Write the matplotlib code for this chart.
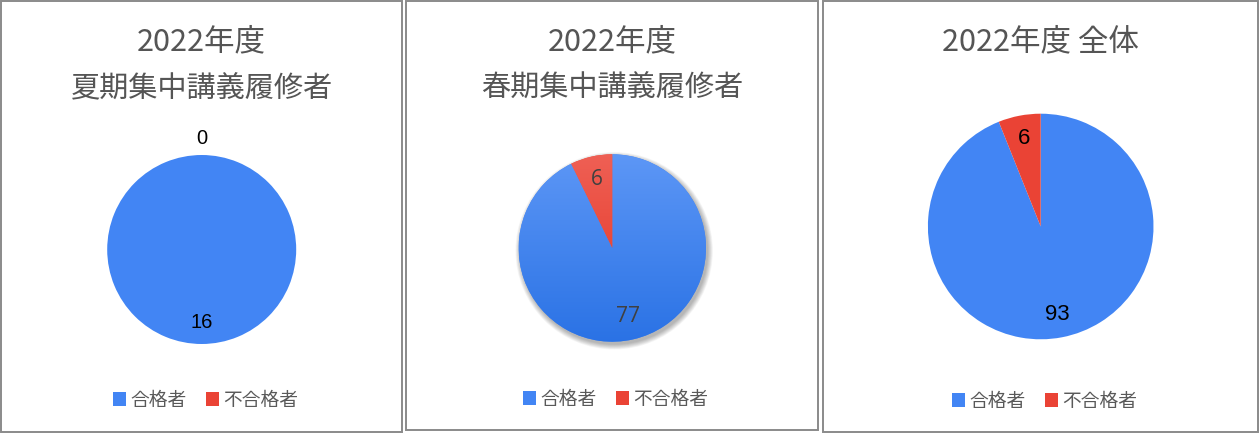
import numpy as np
import matplotlib
matplotlib.use("Agg")
import matplotlib.pyplot as plt
from matplotlib.patches import Rectangle, Circle
import matplotlib.colors as mcolors

plt.rcParams['font.family'] = ['Noto Sans CJK JP', 'DejaVu Sans']

# ---- data ----
categories = ["合格者", "不合格者"]
titles = ["2022年度\n夏期集中講義履修者", "2022年度\n春期集中講義履修者", "2022年度 全体"]
summer_values = [16, 0]
spring_values = [77, 6]
total_values = [93, 6]
panel_values = [summer_values, spring_values, total_values]
colors = ["#4285F4", "#EA4335"]

W, H = 1259, 433
fig = plt.figure(figsize=(W / 100, H / 100), dpi=100)
fig.patch.set_facecolor("white")

def fx(px):
    return px / W

def fy(py):
    return 1 - py / H

# panel frames (pixel coords, y from top)
frames = [(0.5, 0.5, 402, 432), (406, 0.5, 818, 430), (823, 0.5, 1258, 432)]
for x0, y0, x1, y1 in frames:
    fig.add_artist(Rectangle((fx(x0), fy(y1)), fx(x1 - x0), (y1 - y0) / H,
                             transform=fig.transFigure, fill=False,
                             edgecolor="#8a8a8a", linewidth=1.4))

# pie geometry: center x, center y, radius (pixels)
geoms = [(201.7, 249.5, 94.5), (612.3, 248.0, 93.7), (1040.7, 226.5, 112.8)]
title_pos = [(201.7, [42, 89]), (612.3, [42, 89]), (1040.7, [42])]
legend_pos = [(205.5, 400), (615.5, 399), (1044.5, 401)]
label_style = [
    dict(color="black", fontsize=14.5, family=["Liberation Sans"], dist=0.77, zero_dist=1.17),
    dict(color="#404040", fontsize=15, family=["Open Sans"], dist=0.75, zero_dist=1.17),
    dict(color="black", fontsize=16, family=["Liberation Sans"], dist=0.79, zero_dist=1.17),
]

for i, vals in enumerate(panel_values):
    cx, cy, r = geoms[i]
    ax = fig.add_axes([fx(cx - r), fy(cy + r), 2 * r / W, 2 * r / H])
    ax.set_xlim(-1, 1)
    ax.set_ylim(-1, 1)
    ax.axis("off")

    if i == 1:
        # soft shadow
        for k in range(10):
            ax.add_patch(Circle((0.02, -0.03), 1.0 + 0.006 * k, color="black",
                                alpha=0.03, zorder=0, linewidth=0, clip_on=False))

    wedges, _ = ax.pie(vals, colors=colors, startangle=90, counterclock=False,
                       radius=1.0, center=(0, 0), frame=False,
                       wedgeprops=dict(linewidth=0, edgecolor="none"))
    for w in wedges:
        w.set_clip_on(False)
    ax.set_xlim(-1, 1)
    ax.set_ylim(-1, 1)
    ax.set_aspect("auto")

    if i == 1:
        grads = [("#5D97F6", "#2A72E5"), ("#EF6055", "#E3301F")]
        for w, (top, bot) in zip(wedges, grads):
            c1 = np.array(mcolors.to_rgb(top))
            c2 = np.array(mcolors.to_rgb(bot))
            t = np.linspace(0, 1, 256)[:, None]
            img = (c1[None, :] * (1 - t) + c2[None, :] * t)[:, None, :]
            im = ax.imshow(img, extent=(-1.01, 1.01, -1.01, 1.01), aspect="auto", zorder=2,
                           origin="upper", interpolation="bilinear")
            im.set_clip_path(w)
        ax.set_xlim(-1, 1)
        ax.set_ylim(-1, 1)

    st = label_style[i]
    for w, v in zip(wedges, vals):
        ang = np.deg2rad((w.theta1 + w.theta2) / 2)
        d = st["dist"] if v > 0 else st["zero_dist"]
        ax.text(d * np.cos(ang), d * np.sin(ang), str(v), ha="center", va="center",
                color=st["color"], fontsize=st["fontsize"], family=st["family"],
                zorder=5, clip_on=False)

    # title
    tx, tys = title_pos[i]
    lines = titles[i].split("\n")
    for j, (line, ty) in enumerate(zip(lines, tys)):
        fig.text(fx(tx), fy(ty), line, ha="center", va="center",
                 fontsize=22 if j == 0 else 21, color="#555555")

    # legend
    lx, ly = legend_pos[i]
    handles = [Rectangle((0, 0), 1, 1, facecolor=c, edgecolor="none") for c in colors]
    fig.legend(handles, categories, loc="center", bbox_to_anchor=(fx(lx), fy(ly)),
               ncol=2, frameon=False, fontsize=13.5, labelcolor="#595959",
               handlelength=0.7, handleheight=0.7, handletextpad=0.25,
               columnspacing=1.0, borderpad=0, borderaxespad=0)

fig.savefig("out.png", dpi=100, facecolor="white")
